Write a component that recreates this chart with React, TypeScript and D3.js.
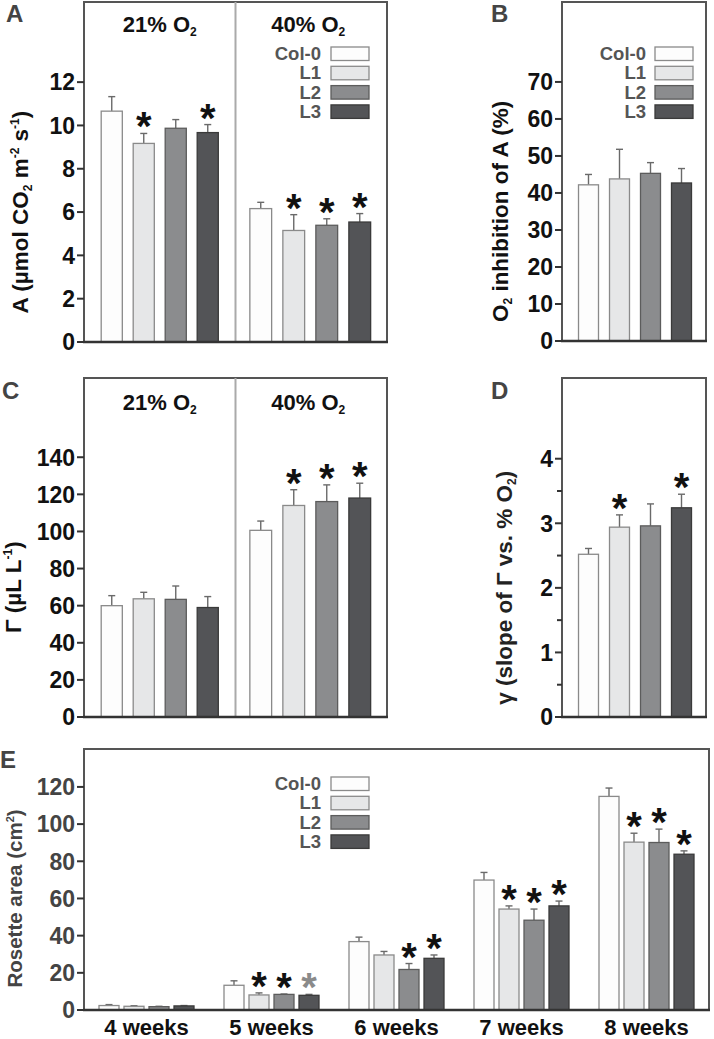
import React from 'react';
import * as d3 from 'd3';

// ---------- data ----------
const lines = ['Col-0', 'L1', 'L2', 'L3'];
const o2Levels = ['21%', '40%'];

// Panel A: net CO2 assimilation
const aMean21 = [10.66, 9.17, 9.87, 9.67];
const aErr21 = [0.67, 0.46, 0.4, 0.37];
const aSig21 = [0, 1, 0, 1];
const aMean40 = [6.16, 5.15, 5.39, 5.54];
const aErr40 = [0.29, 0.73, 0.3, 0.39];
const aSig40 = [0, 1, 1, 1];
const aTicks = [0, 2, 4, 6, 8, 10, 12];

// Panel B: O2 inhibition of A
const bMean = [42.2, 43.8, 45.3, 42.7];
const bErr = [2.8, 8.0, 2.9, 3.9];
const bSig = [0, 0, 0, 0];
const bTicks = [0, 10, 20, 30, 40, 50, 60, 70];

// Panel C: CO2 compensation point
const cMean21 = [60.0, 63.7, 63.4, 59.0];
const cErr21 = [5.4, 3.5, 7.2, 5.9];
const cSig21 = [0, 0, 0, 0];
const cMean40 = [100.6, 114.0, 116.1, 118.0];
const cErr40 = [5.0, 8.5, 9.0, 8.0];
const cSig40 = [0, 1, 1, 1];
const cTicks = [0, 20, 40, 60, 80, 100, 120, 140];

// Panel D: gamma slope
const dMean = [2.52, 2.94, 2.96, 3.24];
const dErr = [0.09, 0.19, 0.34, 0.21];
const dSig = [0, 1, 0, 1];
const dTicks = [0, 1, 2, 3, 4];
const dMinorTicks = [0.5, 1.5, 2.5, 3.5];

// Panel E: rosette area
const weeks = ['4 weeks', '5 weeks', '6 weeks', '7 weeks', '8 weeks'];
const eCol0 = [2.4, 13.3, 36.8, 69.9, 114.9];
const eCol0Err = [0.5, 2.4, 2.4, 4.1, 4.5];
const eL1 = [2.0, 8.1, 29.6, 54.3, 90.3];
const eL1Err = [0.3, 1.1, 1.9, 1.7, 4.8];
const eL2 = [1.8, 8.4, 21.8, 48.3, 90.1];
const eL2Err = [0.2, 0.2, 3.2, 6.0, 7.2];
const eL3 = [2.2, 7.9, 27.8, 56.0, 83.8];
const eL3Err = [0.2, 0.5, 1.8, 2.6, 1.8];
const eSigCol0 = [0, 0, 0, 0, 0];
const eSigL1 = [0, 1, 0, 1, 1];
const eSigL2 = [0, 1, 1, 1, 1];
const eSigL3 = [0, 2, 1, 1, 1];
const eTicks = [0, 20, 40, 60, 80, 100, 120];

// ---------- styles ----------
const FONT = '"Liberation Sans", Arial, Helvetica, sans-serif';
const fills = ['#fdfdfd', '#e6e7e8', '#8b8c8e', '#535457'];
const strokes = ['#8a8a8a', '#8a8a8a', '#5c5c5c', '#3a3a3a'];
const ERR = '#6a6a6a';
const FRAME = '#555';
const AST = 40;
const TICKFS = 23;

type Band = d3.ScaleBand<string>;
type Lin = d3.ScaleLinear<number, number>;

function innerBand(cx: number, half: number, pin: number): Band {
  return d3
    .scaleBand<string>()
    .domain(lines)
    .range([cx - half, cx + half])
    .paddingInner(pin)
    .paddingOuter(pin / 2);
}

function Bars({ xs, y, means, errs, sigs, k }: { xs: Band; y: Lin; means: number[]; errs: number[]; sigs: number[]; k: string }) {
  return (
    <g>
      {lines.map((ln, i) => {
        const x0 = xs(ln)!;
        const w = xs.bandwidth();
        const cx = x0 + w / 2;
        const top = y(means[i]);
        const et = y(means[i] + errs[i]);
        return (
          <g key={k + ln}>
            <line x1={cx} x2={cx} y1={top} y2={et} stroke={ERR} strokeWidth={1.4} />
            <line x1={cx - 3.5} x2={cx + 3.5} y1={et} y2={et} stroke={ERR} strokeWidth={1.4} />
            <rect x={x0} y={top} width={w} height={y(0) - top} fill={fills[i]} stroke={strokes[i]} strokeWidth={1.3} />
            {sigs[i] ? (
              <text
                x={cx}
                y={et + 7}
                textAnchor="middle"
                fontSize={AST}
                fontWeight="bold"
                fontFamily={FONT}
                fill={sigs[i] === 2 ? '#8a8a8a' : '#111'}
              >
                *
              </text>
            ) : null}
          </g>
        );
      })}
    </g>
  );
}

function YAxis({ y, ticks, x0, color, minor }: { y: Lin; ticks: number[]; x0: number; color: string; minor?: number[] }) {
  return (
    <g>
      {ticks.map((t) => (
        <g key={'t' + t}>
          <line x1={x0 - 7} x2={x0} y1={y(t)} y2={y(t)} stroke="#333" strokeWidth={2} />
          <text x={x0 - 9} y={y(t)} dy="0.36em" textAnchor="end" fontSize={TICKFS} fontWeight="bold" fontFamily={FONT} fill={color}>
            {t}
          </text>
        </g>
      ))}
      {(minor || []).map((t) => (
        <line key={'m' + t} x1={x0 - 5} x2={x0} y1={y(t)} y2={y(t)} stroke="#333" strokeWidth={2} />
      ))}
    </g>
  );
}

function Legend({ xRight, boxX, top }: { xRight: number; boxX: number; top: number }) {
  return (
    <g>
      {lines.map((ln, i) => {
        const yy = top + i * 19.3;
        return (
          <g key={'lg' + ln}>
            <text x={xRight} y={yy + 13} textAnchor="end" fontSize={18.5} fontWeight="bold" fontFamily={FONT} fill="#555">
              {ln}
            </text>
            <rect x={boxX} y={yy} width={38} height={13.5} fill={fills[i]} stroke={strokes[i]} strokeWidth={1.3} />
          </g>
        );
      })}
    </g>
  );
}

function Frame({ x0, x1, y0, y1 }: { x0: number; x1: number; y0: number; y1: number }) {
  return <rect x={x0} y={y0} width={x1 - x0} height={y1 - y0} fill="none" stroke={FRAME} strokeWidth={2} />;
}

function BottomLine({ x0, x1, y }: { x0: number; x1: number; y: number }) {
  return <line x1={x0 - 1} x2={x1 + 1} y1={y} y2={y} stroke="#333" strokeWidth={2.5} />;
}

function O2Label({ x, y, lvl }: { x: number; y: number; lvl: string }) {
  return (
    <text x={x} y={y} textAnchor="middle" fontSize={22} fontWeight="bold" fontFamily={FONT} fill="#111">
      {lvl} O
      <tspan fontSize={12} dy={4}>2</tspan>
    </text>
  );
}

function PanelLetter({ x, y, l }: { x: number; y: number; l: string }) {
  return (
    <text x={x} y={y} fontSize={24} fontWeight="bold" fontFamily={FONT} fill="#444">
      {l}
    </text>
  );
}

export default function App() {
  // ---- Panel A ----
  const A = { x0: 84, x1: 387, y0: 2, y1: 342 };
  const yA = d3.scaleLinear().domain([0, 15.7]).range([A.y1, A.y0]);
  const gA = d3.scaleBand<string>().domain(o2Levels).range([A.x0, A.x1]);
  const cA = o2Levels.map((g) => gA(g)! + gA.bandwidth() / 2);
  const xA21 = innerBand(cA[0], 64, 0.34);
  const xA40 = innerBand(cA[1] - 1, 66, 0.34);

  // ---- Panel B ----
  const B = { x0: 562, x1: 706, y0: 2, y1: 341 };
  const yB = d3.scaleLinear().domain([0, 91.6]).range([B.y1, B.y0]);
  const xB = innerBand((B.x0 + B.x1) / 2 + 1, 62, 0.355);

  // ---- Panel C ----
  const C = { x0: 84, x1: 387, y0: 378, y1: 717 };
  const yC = d3.scaleLinear().domain([0, 182.7]).range([C.y1, C.y0]);
  const gC = d3.scaleBand<string>().domain(o2Levels).range([C.x0, C.x1]);
  const cC = o2Levels.map((g) => gC(g)! + gC.bandwidth() / 2);
  const xC21 = innerBand(cC[0], 64, 0.34);
  const xC40 = innerBand(cC[1] - 1, 66, 0.34);

  // ---- Panel D ----
  const D = { x0: 562, x1: 706, y0: 378, y1: 717 };
  const yD = d3.scaleLinear().domain([0, 5.25]).range([D.y1, D.y0]);
  const xD = innerBand((D.x0 + D.x1) / 2 + 1, 62, 0.355);

  // ---- Panel E ----
  const E = { x0: 84, x1: 709, y0: 749, y1: 1010 };
  const yE = d3.scaleLinear().domain([0, 140.4]).range([E.y1, E.y0]);
  const gE = d3.scaleBand<string>().domain(weeks).range([E.x0, E.x1]);
  const eSeries = [eCol0, eL1, eL2, eL3];
  const eErrs = [eCol0Err, eL1Err, eL2Err, eL3Err];
  const eSigs = [eSigCol0, eSigL1, eSigL2, eSigL3];

  return (
    <svg
      width={714}
      height={1039}
      viewBox="0 0 714 1039"
      style={{ position: 'absolute', left: 0, top: 0, background: '#fff' }}
      fontFamily={FONT}
    >
      <rect x={0} y={0} width={714} height={1039} fill="#fff" />

      {/* ===== Panel A ===== */}
      <PanelLetter x={6} y={22} l="A" />
      <Frame {...A} />
      <line x1={gA('40%')!} x2={gA('40%')!} y1={A.y0} y2={A.y1} stroke="#aaa" strokeWidth={2} />
      <O2Label x={cA[0]} y={A.y0 + 30} lvl="21%" />
      <O2Label x={cA[1] - 3} y={A.y0 + 30} lvl="40%" />
      <Legend xRight={321} boxX={331} top={47} />
      <Bars xs={xA21} y={yA} means={aMean21} errs={aErr21} sigs={aSig21} k="a21" />
      <Bars xs={xA40} y={yA} means={aMean40} errs={aErr40} sigs={aSig40} k="a40" />
      <BottomLine x0={A.x0} x1={A.x1} y={A.y1} />
      <YAxis y={yA} ticks={aTicks} x0={A.x0} color="#111" />
      <text
        transform={`translate(28,${(yA(0) + yA(12)) / 2}) rotate(-90)`}
        textAnchor="middle"
        fontSize={22.5}
        fontWeight="bold"
        fontFamily={FONT}
        fill="#111"
      >
        A (µmol CO<tspan fontSize={12} dy={4}>2</tspan>
        <tspan dy={-4}> m</tspan>
        <tspan fontSize={12} dy={-9}>-2</tspan>
        <tspan dy={9}> s</tspan>
        <tspan fontSize={12} dy={-9}>-1</tspan>
        <tspan dy={9}>)</tspan>
      </text>

      {/* ===== Panel B ===== */}
      <PanelLetter x={491} y={22} l="B" />
      <Frame {...B} />
      <Legend xRight={646} boxX={655} top={47} />
      <Bars xs={xB} y={yB} means={bMean} errs={bErr} sigs={bSig} k="b" />
      <BottomLine x0={B.x0} x1={B.x1} y={B.y1} />
      <YAxis y={yB} ticks={bTicks} x0={B.x0} color="#111" />
      <text
        transform={`translate(508,${(yB(0) + yB(70)) / 2}) rotate(-90)`}
        textAnchor="middle"
        fontSize={22.5}
        fontWeight="bold"
        fontFamily={FONT}
        fill="#111"
      >
        O<tspan fontSize={12} dy={4}>2</tspan>
        <tspan dy={-4}> inhibition of A (%)</tspan>
      </text>

      {/* ===== Panel C ===== */}
      <PanelLetter x={2} y={399} l="C" />
      <Frame {...C} />
      <line x1={gC('40%')!} x2={gC('40%')!} y1={C.y0} y2={C.y1} stroke="#aaa" strokeWidth={2} />
      <O2Label x={cC[0]} y={C.y0 + 32} lvl="21%" />
      <O2Label x={cC[1] - 3} y={C.y0 + 32} lvl="40%" />
      <Bars xs={xC21} y={yC} means={cMean21} errs={cErr21} sigs={cSig21} k="c21" />
      <Bars xs={xC40} y={yC} means={cMean40} errs={cErr40} sigs={cSig40} k="c40" />
      <BottomLine x0={C.x0} x1={C.x1} y={C.y1} />
      <YAxis y={yC} ticks={cTicks} x0={C.x0} color="#111" />
      <text
        transform={`translate(21,${(yC(0) + yC(140)) / 2}) rotate(-90)`}
        textAnchor="middle"
        fontSize={22.5}
        fontWeight="bold"
        fontFamily={FONT}
        fill="#111"
      >
        Γ (µL L<tspan fontSize={12} dy={-9}>-1</tspan>
        <tspan dy={9}>)</tspan>
      </text>

      {/* ===== Panel D ===== */}
      <PanelLetter x={491} y={399} l="D" />
      <Frame {...D} />
      <Bars xs={xD} y={yD} means={dMean} errs={dErr} sigs={dSig} k="d" />
      <BottomLine x0={D.x0} x1={D.x1} y={D.y1} />
      <YAxis y={yD} ticks={dTicks} x0={D.x0} color="#111" minor={dMinorTicks} />
      <text
        transform={`translate(512,${(yD(0) + yD(4)) / 2}) rotate(-90)`}
        textAnchor="middle"
        fontSize={22.5}
        fontWeight="bold"
        fontFamily={FONT}
        fill="#222"
      >
        γ (slope of Γ vs. % O<tspan fontSize={12} dy={4}>2</tspan>
        <tspan dy={-4}>)</tspan>
      </text>

      {/* ===== Panel E ===== */}
      <PanelLetter x={0} y={768} l="E" />
      <Frame {...E} />
      <Legend xRight={321} boxX={331} top={777} />
      {weeks.map((wk, wi) => {
        const cx = gE(wk)! + gE.bandwidth() / 2;
        const xs = innerBand(cx, 50, 0.2);
        return (
          <g key={wk}>
            <Bars
              xs={xs}
              y={yE}
              means={eSeries.map((s) => s[wi])}
              errs={eErrs.map((s) => s[wi])}
              sigs={eSigs.map((s) => s[wi])}
              k={'e' + wk}
            />
            <text x={cx} y={1035} textAnchor="middle" fontSize={22} fontWeight="bold" fontFamily={FONT} fill="#111">
              {wk}
            </text>
          </g>
        );
      })}
      <BottomLine x0={E.x0} x1={E.x1} y={E.y1} />
      <YAxis y={yE} ticks={eTicks} x0={E.x0} color="#444" />
      <text
        transform={`translate(22,${(yE(0) + yE(120)) / 2}) rotate(-90)`}
        textAnchor="middle"
        fontSize={20.5}
        fontWeight="bold"
        fontFamily={FONT}
        fill="#444"
      >
        Rosette area (cm<tspan fontSize={11} dy={-8}>2</tspan>
        <tspan dy={8}>)</tspan>
      </text>
    </svg>
  );
}
